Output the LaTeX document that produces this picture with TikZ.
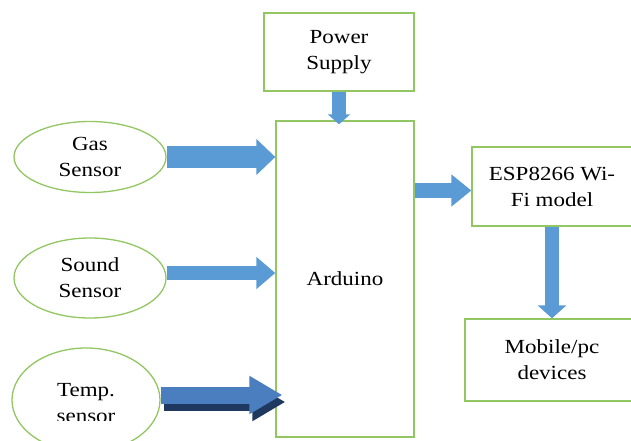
\documentclass[tikz,border=0pt]{standalone}
\usepackage{fontspec}
\setmainfont[FakeStretch=1.15]{Liberation Serif}
\usetikzlibrary{arrows.meta,shapes.geometric}
\definecolor{boxgreen}{RGB}{146,198,98}
\definecolor{arrowblue}{RGB}{91,155,213}
\definecolor{tempblue}{RGB}{74,126,190}
\definecolor{tempshadow}{RGB}{31,56,96}
\begin{document}
\begin{tikzpicture}[
        x=1pt, y=-1pt,
        font=\fontsize{20}{26}\selectfont,
        boxNode/.style={rectangle, draw=boxgreen, line width=1.3pt, align=center, inner sep=0pt},
        sensorNode/.style={ellipse, draw=boxgreen, line width=1.3pt, align=center, inner sep=0pt},
        blockArrow/.style={draw=arrowblue, line cap=butt}
    ]
        \clip (0,0) rectangle (631,441);

        % Blocks
        \node[boxNode, minimum width=150pt, minimum height=78pt] (power) at (339,52) {Power\\Supply};
        \node[boxNode, minimum width=138pt, minimum height=316pt] (arduino) at (345,279) {Arduino};
        \node[boxNode, minimum width=160pt, minimum height=79pt] (esp) at (552,186.5) {ESP8266 Wi-\\Fi model};
        \node[boxNode, minimum width=174pt, minimum height=82pt] (mobile) at (552,360) {Mobile/pc\\devices};

        % Sensors
        \node[sensorNode, minimum width=152pt, minimum height=71pt] (gas) at (90,157) {Gas\\Sensor};
        \node[sensorNode, minimum width=152pt, minimum height=80pt] (sound) at (90,278) {Sound\\Sensor};
        \node[sensorNode, minimum width=148pt, minimum height=104pt] (temp) at (86,400) {};
        \begin{scope}
            \clip (0,0) rectangle (631,420);
            \node[align=center] (templabel) at (86,403) {Temp.\\sensor};
        \end{scope}

        % Arrows
        \draw[blockArrow, line width=14pt, -{Triangle[length=10pt,width=22pt]}, shorten >=-4pt]
            (power.south) -- (power.south |- arduino.north);
        \draw[blockArrow, line width=22pt, -{Triangle[length=19pt,width=35pt]}]
            (gas.east) -- (gas.east -| arduino.west);
        \draw[blockArrow, line width=14pt, -{Triangle[length=19pt,width=31pt]}]
            ([yshift=5pt]sound.east) -- ([yshift=5pt]sound.east -| arduino.west);
        \draw[blockArrow, line width=15pt, -{Triangle[length=20pt,width=31pt]}]
            ([yshift=-4pt]esp.west -| arduino.east) -- ([yshift=-4pt]esp.west);
        \draw[blockArrow, line width=14pt, -{Triangle[length=13pt,width=28pt]}]
            (esp.south) -- (mobile.north);
        \draw[draw=tempshadow, line width=17pt, -{Triangle[length=33pt,width=36pt]}, shorten >=-7pt,
            transform canvas={xshift=3pt, yshift=-7pt}]
            ([yshift=5pt]temp.east) -- ([yshift=5pt]temp.east -| arduino.west);
        \draw[draw=tempblue, line width=17pt, -{Triangle[length=33pt,width=36pt]}, shorten >=-7pt]
            ([yshift=5pt]temp.east) -- ([yshift=5pt]temp.east -| arduino.west);
    \end{tikzpicture}
\end{document}
